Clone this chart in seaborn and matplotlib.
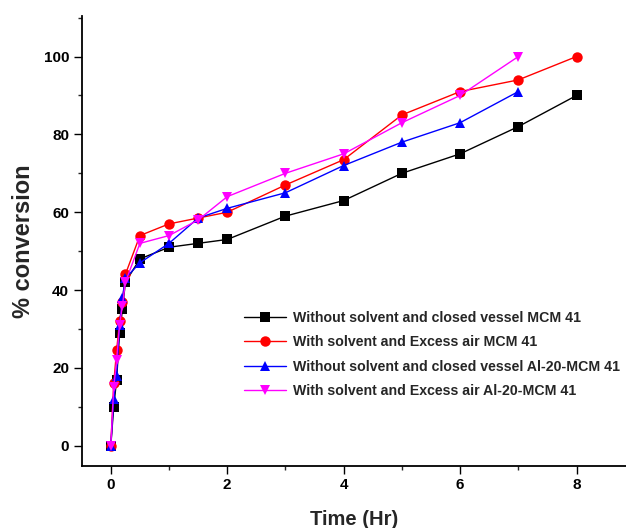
import matplotlib
matplotlib.use("Agg")
import matplotlib.pyplot as plt
from matplotlib.ticker import MultipleLocator
import seaborn as sns
import pandas as pd

time_a = [0, 0.05, 0.1, 0.15, 0.2, 0.25, 0.5, 1, 1.5, 2, 3, 4, 5, 6, 7, 8]
time_b = [0, 0.05, 0.1, 0.15, 0.2, 0.25, 0.5, 1, 1.5, 2, 3, 4, 5, 6, 7]

black_vals = [0, 10, 17, 29, 35, 42, 48, 51, 52, 53, 59, 63, 70, 75, 82, 90]
red_vals = [0, 16, 24.5, 32, 37, 44, 54, 57, 58.5, 60, 67, 73.5, 85, 91, 94, 100]
blue_vals = [0, 12, 18, 31, 38, 43, 47, 52, 58.5, 61, 65, 72, 78, 83, 91]
magenta_vals = [0, 15, 22, 31, 36, 42, 52, 54, 58, 64, 70, 75, 83, 90, 100]

labels = [
    "Without solvent and closed vessel MCM 41",
    "With solvent and Excess air MCM 41",
    "Without solvent and closed vessel Al-20-MCM 41",
    "With solvent and Excess air Al-20-MCM 41",
]
colors = ["#000000", "#ff0000", "#0000ff", "#ff00ff"]
markers = ["s", "o", "^", "v"]

series = [(time_a, black_vals), (time_a, red_vals), (time_b, blue_vals), (time_b, magenta_vals)]
frames = []
for lab, (t, v) in zip(labels, series):
    frames.append(pd.DataFrame({"Time": t, "Conversion": v, "Series": lab}))
df = pd.concat(frames, ignore_index=True)

sns.set_style("ticks")
plt.rcParams["font.family"] = ["Liberation Sans", "DejaVu Sans"]
plt.rcParams["font.weight"] = "bold"

fig = plt.figure(figsize=(6.26, 5.28), dpi=100)
ax = fig.add_axes([81.7 / 626, 1 - 465.7 / 528, 1 - 81.7 / 626, (465.7 - 15.7) / 528])

sns.lineplot(
    data=df, x="Time", y="Conversion", hue="Series", style="Series",
    hue_order=labels, style_order=labels,
    palette=dict(zip(labels, colors)), markers=dict(zip(labels, markers)),
    dashes=False, markersize=7.5, linewidth=1.0, markeredgewidth=0,
    sort=False, ax=ax, legend=False,
)

for lab, c, m in zip(labels, colors, markers):
    ax.plot([], [], color=c, marker=m, markersize=7.5, markeredgewidth=0, linewidth=1.0, label=lab)

ax.set_xlim(-0.5, 8.85)
ax.set_ylim(-5.14, 110.5)
ax.xaxis.set_major_locator(MultipleLocator(2))
ax.xaxis.set_minor_locator(MultipleLocator(1))
ax.yaxis.set_major_locator(MultipleLocator(20))
ax.yaxis.set_minor_locator(MultipleLocator(10))
ax.tick_params(which="major", direction="out", length=5.5, width=1.0, labelsize=11, colors="black")
ax.tick_params(which="minor", direction="out", length=3, width=1.0)
for lbl in ax.get_xticklabels() + ax.get_yticklabels():
    lbl.set_fontweight("bold")

ax.spines["top"].set_visible(False)
ax.spines["right"].set_visible(False)
ax.spines["left"].set_linewidth(1.3)
ax.spines["bottom"].set_linewidth(1.3)
ax.spines["left"].set_color("black")
ax.spines["bottom"].set_color("black")

ax.set_xlabel("Time (Hr)", fontsize=14.5, fontweight="bold", labelpad=13)
ax.set_ylabel("% conversion", fontsize=17, fontweight="bold", labelpad=6)

leg = ax.legend(loc="upper left", bbox_to_anchor=(0.287, 0.356), frameon=False,
                prop={"size": 10.2, "weight": "bold"}, handlelength=3.0,
                labelspacing=0.72, handletextpad=0.5, borderaxespad=0)

fig.savefig("out.png", dpi=100)
